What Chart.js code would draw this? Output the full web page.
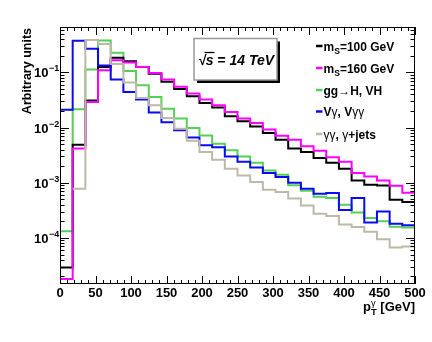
<!DOCTYPE html>
<html>
<head>
<meta charset="utf-8">
<script src="https://cdn.jsdelivr.net/npm/chart.js@4.4.0/dist/chart.umd.min.js"></script>
<style>
  html, body { margin: 0; padding: 0; background: #fff; }
  #wrap { width: 432px; height: 342px; }
</style>
</head>
<body>
<div id="wrap"><canvas id="ptChart" width="432" height="342"></canvas></div>
<script>
// photon pT spectra, 28 bins between 0 and 500 GeV
const ptMin = 0;
const ptMax = 500;
const nBins = 28;

const ms100 = [2.9e-5, 0.0049, 0.031, 0.126, 0.184, 0.16, 0.125, 0.095, 0.068, 0.050,
  0.037, 0.028, 0.0231, 0.0160, 0.013, 0.0105, 0.0080, 0.0060, 0.0042, 0.0036,
  0.0028, 0.0023, 0.0018, 0.0011, 0.00092, 0.00089, 0.00049, 0.00045];
const ms160 = [1.8e-5, 0.0042, 0.029, 0.11, 0.167, 0.152, 0.126, 0.098, 0.0745, 0.0548,
  0.0414, 0.0322, 0.0254, 0.0192, 0.0146, 0.0121, 0.0092, 0.0071, 0.0060, 0.0046,
  0.0038, 0.0029, 0.0024, 0.0015, 0.0013, 0.0011, 0.00088, 0.00066];
const ggH = [1.32e-4, 0.0215, 0.113, 0.38, 0.227, 0.106, 0.0587, 0.036, 0.022, 0.0146,
  0.0098, 0.0072, 0.0051, 0.0039, 0.0030, 0.0023, 0.00166, 0.0014, 0.0009, 0.00072,
  0.00056, 0.00053, 0.0004, 0.00029, 0.00023, 0.0002, 0.00016, 0.000155];
const vGamma = [0.021, 0.376, 0.27, 0.133, 0.0746, 0.0444, 0.0323, 0.0187, 0.0125, 0.0090,
  0.0066, 0.0048, 0.0044, 0.0030, 0.0024, 0.0019, 0.0015, 0.00127, 0.0010, 0.00078,
  0.00063, 0.00065, 0.00032, 0.00053, 0.00019, 0.0003, 0.00018, 0.00017];
const gammaJets = [0, 7.8e-4, 0.386, 0.327, 0.142, 0.066, 0.0345, 0.0254, 0.0150, 0.0095,
  0.0058, 0.0036, 0.0026, 0.0018, 0.00136, 0.00103, 0.00075, 0.00068, 0.00052, 0.000385,
  0.000275, 0.00025, 0.000175, 0.000158, 0.00013, 0.000095, 0.000067, 0.00007];

const seriesNames = ['m_{S}=100 GeV', 'm_{S}=160 GeV', 'gg→H, VH', 'Vγ, Vγγ', 'γγ, γ+jets'];
const seriesColors = ['#000000', '#ff00ff', '#55cf55', '#0a0af5', '#bdb8a8'];

const yTickExponents = [-4, -3, -2, -1];
const yMin = 1.46e-5;
const yMax = 0.667;

const FONT = '"Liberation Sans", Arial, sans-serif';

const edges = [];
for (let i = 0; i <= nBins; i++) {
    edges.push(ptMin + i * (ptMax - ptMin) / nBins);
}

function toSteps(vals) {
    const pts = vals.map((v, i) => ({ x: edges[i], y: v }));
    pts.push({ x: edges[nBins], y: vals[nBins - 1] });
    return pts;
}

// text with _{sub} and ^{sup}; greek letters and arrows in normal weight
function richParts(str) {
    const parts = [];
    let i = 0;
    while (i < str.length) {
        const c = str[i];
        if ((c === '_' || c === '^') && str[i + 1] === '{') {
            const end = str.indexOf('}', i);
            parts.push({ text: str.slice(i + 2, end), kind: c === '_' ? 'sub' : 'sup' });
            i = end + 1;
        } else {
            const last = parts[parts.length - 1];
            if (last && last.kind === 'base') last.text += c;
            else parts.push({ text: c, kind: 'base' });
            i++;
        }
    }
    return parts;
}

function drawRich(ctx, str, x, y, size, draw) {
    const parts = richParts(str);
    let cx = x;
    let lastScript = null;
    for (const p of parts) {
        const fs = p.kind === 'base' ? size : size * 0.72;
        const dy = p.kind === 'sub' ? size * 0.32 : (p.kind === 'sup' ? -size * 0.42 : 0);
        let startX = cx;
        if (p.kind !== 'base' && lastScript && lastScript.kind !== p.kind) {
            startX = lastScript.x;
        }
        let w = 0;
        for (const ch of p.text) {
            const thin = /[α-ωΑ-Ω→]/.test(ch);
            ctx.font = (thin ? 'normal ' : 'bold ') + fs + 'px ' + FONT;
            if (draw) ctx.fillText(ch, startX + w, y + dy);
            w += ctx.measureText(ch).width;
        }
        cx = Math.max(cx, startX + w);
        lastScript = p.kind === 'base' ? null : { kind: p.kind, x: startX };
    }
    return cx - x;
}

const rootDecor = {
    id: 'rootDecor',
    afterDraw(chart) {
        const ctx = chart.ctx;
        const area = chart.chartArea;
        const xs = chart.scales.x;
        const ys = chart.scales.y;
        ctx.save();
        ctx.fillStyle = '#000';
        ctx.strokeStyle = '#000';
        ctx.textAlign = 'left';
        ctx.textBaseline = 'alphabetic';

        // frame
        ctx.lineWidth = 1;
        ctx.strokeRect(area.left + 0.5, area.top + 0.5, area.right - area.left - 1, area.bottom - area.top - 1);

        // x ticks, bottom and top
        ctx.beginPath();
        for (let v = ptMin; v <= ptMax; v += 10) {
            const px = Math.round(xs.getPixelForValue(v)) + 0.5;
            const len = v % 50 === 0 ? 8 : 4;
            ctx.moveTo(px, area.bottom);
            ctx.lineTo(px, area.bottom - len);
            ctx.moveTo(px, area.top);
            ctx.lineTo(px, area.top + len);
        }
        // y ticks, left and right
        for (let d = -5; d <= 0; d++) {
            for (let m = 1; m <= 9; m++) {
                const v = m * Math.pow(10, d);
                if (v < yMin || v > yMax) continue;
                const py = Math.round(ys.getPixelForValue(v)) + 0.5;
                const len = m === 1 ? 9 : 4.5;
                ctx.moveTo(area.left, py);
                ctx.lineTo(area.left + len, py);
                ctx.moveTo(area.right, py);
                ctx.lineTo(area.right - len, py);
            }
        }
        ctx.stroke();

        // y tick labels 10^n
        yTickExponents.forEach(e => {
            const py = ys.getPixelForValue(Math.pow(10, e));
            ctx.font = 'bold 13px ' + FONT;
            ctx.fillText('10', 34, py + 5);
            const w = ctx.measureText('10').width;
            ctx.font = 'bold 9px ' + FONT;
            ctx.fillText('\u2212' + Math.abs(e), 34 + w + 0.5, py - 1);
        });

        // y title
        ctx.save();
        ctx.translate(28, 28);
        ctx.rotate(-Math.PI / 2);
        ctx.textAlign = 'right';
        ctx.textBaseline = 'middle';
        ctx.font = 'bold 12.5px ' + FONT;
        ctx.fillText('Arbitrary units', 0, 0);
        ctx.restore();

        // x title
        const xTitle = 'p_{T}^{γ} [GeV]';
        const tw = drawRich(ctx, xTitle, 0, 0, 13, false);
        drawRich(ctx, xTitle, area.right - tw, 311, 13, true);

        // sqrt(s) box with shadow
        const bx = 194, by = 38.5, bw = 83, bh = 41.5;
        ctx.fillStyle = '#000';
        ctx.fillRect(bx + 3, by + 3, bw, bh);
        ctx.fillStyle = '#fff';
        ctx.fillRect(bx, by, bw, bh);
        ctx.strokeStyle = '#999';
        ctx.lineWidth = 1.5;
        ctx.strokeRect(bx, by, bw, bh);
        ctx.fillStyle = '#000';
        ctx.font = 'italic bold 14px ' + FONT;
        const rootW = ctx.measureText('\u221a').width;
        ctx.fillText('\u221a', 198, 65);
        const sW = ctx.measureText('s').width;
        ctx.fillText('s = 14 TeV', 198 + rootW, 65);
        ctx.lineWidth = 1.3;
        ctx.strokeStyle = '#000';
        ctx.beginPath();
        ctx.moveTo(198 + rootW - 1, 52.5);
        ctx.lineTo(198 + rootW + sW + 1, 52.5);
        ctx.stroke();

        // legend
        const rows = [46, 68, 90, 111.5, 134];
        seriesNames.forEach((name, i) => {
            ctx.strokeStyle = seriesColors[i];
            ctx.lineWidth = 2.5;
            ctx.beginPath();
            ctx.moveTo(316, rows[i]);
            ctx.lineTo(322.5, rows[i]);
            ctx.stroke();
            ctx.fillStyle = '#000';
            drawRich(ctx, name, 323.5, rows[i] + 4.5, 12, true);
        });
        ctx.restore();
    }
};

const series = [ms100, ms160, ggH, vGamma, gammaJets];
const drawOrder = [3, 2, 4, 1, 0];

new Chart(document.getElementById('ptChart'), {
    type: 'line',
    data: {
        datasets: series.map((vals, i) => ({
            label: seriesNames[i],
            data: toSteps(vals),
            borderColor: seriesColors[i],
            borderWidth: 2,
            pointRadius: 0,
            fill: false,
            stepped: 'before',
            order: drawOrder[i]
        }))
    },
    options: {
        responsive: false,
        animation: false,
        devicePixelRatio: 1,
        layout: { padding: { left: 0, right: 17, top: 27, bottom: 0 } },
        plugins: {
            legend: { display: false },
            tooltip: { enabled: false }
        },
        scales: {
            x: {
                type: 'linear',
                min: ptMin,
                max: ptMax,
                afterFit: s => { s.height = 58; },
                grid: { display: false, drawTicks: false },
                border: { display: false },
                ticks: {
                    stepSize: 50,
                    maxRotation: 0,
                    autoSkip: false,
                    padding: 2,
                    color: '#000',
                    font: { family: FONT, weight: 'bold', size: 13 }
                }
            },
            y: {
                type: 'logarithmic',
                min: yMin,
                max: yMax,
                afterFit: s => { s.width = 60; },
                grid: { display: false, drawTicks: false },
                border: { display: false },
                ticks: { display: false }
            }
        }
    },
    plugins: [rootDecor]
});
</script>
</body>
</html>
